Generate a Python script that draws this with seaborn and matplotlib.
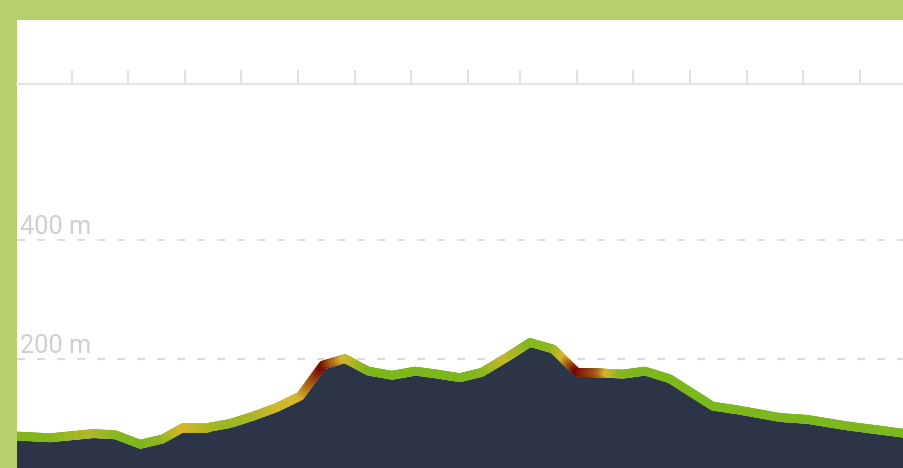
import numpy as np
import pandas as pd
import matplotlib
matplotlib.use("Agg")
import matplotlib.pyplot as plt
import matplotlib.transforms as mtransforms
from matplotlib.collections import LineCollection
from matplotlib.colors import LinearSegmentedColormap
from matplotlib.patches import Rectangle
import seaborn as sns

# ---- data ----
distance_km = [0.00, 0.62, 1.38, 1.77, 2.21, 2.61, 2.97, 3.39, 3.80, 4.20, 4.63,
               5.04, 5.44, 5.83, 6.24, 6.66, 7.07, 7.46, 7.86, 8.25, 8.69, 9.10,
               9.51, 9.93, 10.34, 10.74, 11.13, 11.57, 12.33, 12.76, 13.52, 13.99,
               14.70, 15.75]
elevation_m = [64, 61, 68, 66, 50, 59, 78, 78, 85, 97, 112,
               131, 183, 194, 173, 166, 173, 168, 162, 171, 196, 221,
               210, 171, 170, 168, 173, 160, 114, 108, 95, 92,
               81, 68]
# grade intensity shown on the line (0 = green, 0.5 = yellow, 1 = dark red)
intensity = [0.05, 0.05, 0.3, 0.1, 0.0, 0.1, 0.5, 0.3, 0.15, 0.25, 0.45,
             0.5, 1.0, 0.5, 0.0, 0.0, 0.0, 0.0, 0.0, 0.05, 0.4, 0.05,
             0.1, 1.0, 0.75, 0.05, 0.0, 0.0, 0.0, 0.0, 0.0, 0.0,
             0.0, 0.0]
x_ticks = [1, 2, 3, 4, 5, 6, 7, 8, 8.92, 9.93, 10.92, 11.93, 12.93, 13.92, 14.93]
y_ticks = [200, 400]
y_tick_labels = ["200 m", "400 m"]

df = pd.DataFrame({"distance": distance_km, "elevation": elevation_m})

sns.set_theme(style="white")
plt.rcParams["lines.scale_dashes"] = False
plt.rcParams["font.family"] = ["Roboto", "DejaVu Sans"]

BORDER = "#b8cf6e"
FILL = "#2b3547"
GREEN = "#7cb71b"
YELLOW = "#d8b62e"
DARKRED = "#760600"

W, H = 904, 468
fig = plt.figure(figsize=(W / 100, H / 100), dpi=100, facecolor=BORDER)
fig.patches.append(Rectangle((17 / W, 0), 1, (H - 20) / H, transform=fig.transFigure,
                             facecolor="white", edgecolor="none", zorder=-5))
ax = fig.add_axes([17 / W, 0, (W - 17) / W, (H - 84) / H])
ax.set_zorder(1)
ax.set_facecolor("white")

ax.set_xlim(0.035, 15.71)
ax.set_ylim(16.8, 662.2)

# filled elevation area
ax.fill_between(df["distance"], df["elevation"], 0, color=FILL, linewidth=0, zorder=2)

# line drawn slightly above the area edge
offset = mtransforms.offset_copy(ax.transData, fig=fig, x=0, y=4, units="dots")
sns.lineplot(data=df, x="distance", y="elevation", ax=ax, color=GREEN,
             linewidth=6.2, transform=offset, zorder=3, sort=False)

cmap = LinearSegmentedColormap.from_list("grade", [GREEN, YELLOW, DARKRED])
segs, vals = [], []
n_sub = 12
for i in range(len(distance_km) - 1):
    x0, x1 = distance_km[i], distance_km[i + 1]
    y0, y1 = elevation_m[i], elevation_m[i + 1]
    c0, c1 = intensity[i], intensity[i + 1]
    for k in range(n_sub):
        t0, t1 = k / n_sub, (k + 1) / n_sub
        segs.append([(x0 + (x1 - x0) * t0, y0 + (y1 - y0) * t0),
                     (x0 + (x1 - x0) * t1, y0 + (y1 - y0) * t1)])
        vals.append(c0 + (c1 - c0) * (t0 + t1) / 2)
lc = LineCollection(segs, cmap=cmap, norm=plt.Normalize(0, 1), linewidths=6.2,
                    transform=offset, zorder=4, capstyle="round", joinstyle="round")
lc.set_array(np.array(vals))
ax.add_collection(lc)

# axes styling
for side in ["left", "right", "bottom"]:
    ax.spines[side].set_visible(False)
ax.spines["top"].set_color("#e4e4e4")
ax.spines["top"].set_linewidth(1.6)

ax.xaxis.tick_top()
ax.set_xticks(x_ticks)
ax.tick_params(axis="x", which="both", direction="out", length=10, width=1.3,
               color="#dedede", labeltop=False, labelbottom=False, top=True, bottom=False)

ax.set_yticks(y_ticks, labels=y_tick_labels)
ax.tick_params(axis="y", length=0, pad=-2.2, labelsize=18.3, labelcolor="#d0d0d0")
shift = mtransforms.ScaledTranslation(0, 6 / 100, fig.dpi_scale_trans)
for lab in ax.get_yticklabels():
    lab.set_horizontalalignment("left")
    lab.set_verticalalignment("baseline")
    lab.set_transform(lab.get_transform() + shift)

ax.yaxis.grid(True, color="#dcdcdc", linewidth=1.5, linestyle=(0, (5.8, 8.6)), zorder=1)
ax.xaxis.grid(False)
ax.set_xlabel("")
ax.set_ylabel("")
ax.set_axisbelow(True)

fig.savefig("out.png", dpi=100, facecolor=BORDER)
